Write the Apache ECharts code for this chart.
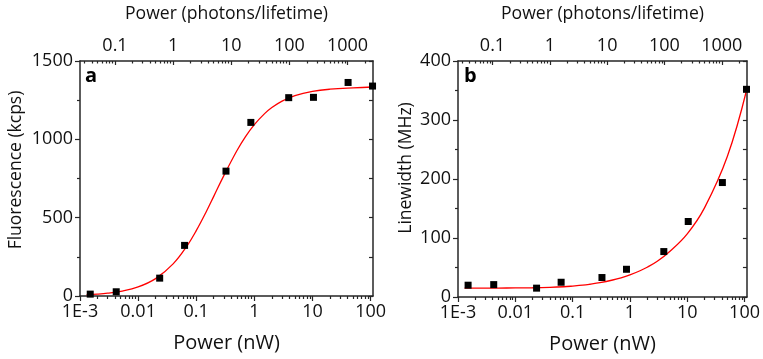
<!DOCTYPE html>
<html>
<head>
<meta charset="utf-8">
<script src="https://cdn.jsdelivr.net/npm/echarts@6/dist/echarts.min.js"></script>
<style>
html,body{margin:0;padding:0;background:#fff;}
#chart{width:763px;height:359px;}
</style>
</head>
<body>
<div id="chart"></div>
<script>
// ---- data ----
const powerNW = [0.0015, 0.0042, 0.0235, 0.063, 0.325, 0.87, 3.9, 10.4, 41, 108];
const fluorescenceKcps = [12, 27, 114, 323, 797, 1108, 1266, 1268, 1363, 1340];
const linewidthMHz = [20, 21, 15, 25, 33, 47, 77, 128, 194, 352];

// red fit curves
const fitPowerNW = [0.0013, 0.002, 0.003, 0.005, 0.01, 0.02, 0.04, 0.07, 0.1, 0.15, 0.2, 0.3, 0.5, 0.7, 1, 1.5, 2, 3, 5, 10, 20, 50, 110];
const fitFluorescence = [8, 12, 18, 30, 58, 111, 205, 322, 417, 541, 636, 770, 927, 1016, 1094, 1164, 1203, 1244, 1279, 1306, 1320, 1329, 1334];
const fitLinewidth = [15.0, 15.1, 15.1, 15.2, 15.4, 15.7, 16.4, 17.4, 18.5, 20.0, 21.6, 24.3, 28.8, 32.5, 37.5, 44.5, 50.5, 60.5, 77.5, 107, 151, 238, 353];

// tick labels
const bottomTickLabels = { '-3': '1E-3', '-2': '0.01', '-1': '0.1', '0': '1', '1': '10', '2': '100' };
const topTickLabels = { '-1': '0.1', '0': '1', '1': '10', '2': '100', '3': '1000' };
const fluorescenceTicks = [0, 500, 1000, 1500];
const linewidthTicks = [0, 100, 200, 300, 400];

const photonsPerNW = 25;        // conversion of the top axis
const xMin = 0.001, xMax = 110;

// ---- build ----
const FONT = '"Open Sans", "DejaVu Sans", sans-serif';
const AXC = '#262626';
const TXT = '#111';

function decadeFormatter(map) {
  return function (v) {
    const l = Math.log10(v);
    const e = Math.round(l);
    if (Math.abs(l - e) > 1e-6) return '';
    return map[String(e)] !== undefined ? map[String(e)] : '';
  };
}
function majorLog(lo, hi) {
  const out = [];
  for (let e = Math.ceil(lo - 1e-9); e <= hi + 1e-9; e++) out.push(e);
  return out;
}
function minorLog(lo, hi) {
  const out = [];
  for (let e = Math.floor(lo) - 1; e <= Math.ceil(hi); e++) {
    for (let k = 2; k <= 9; k++) {
      const v = e + Math.log10(k);
      if (v > lo + 1e-9 && v < hi - 1e-9) out.push(v);
    }
  }
  return out;
}

const grids = [
  { left: 80, top: 59, width: 293, height: 237 },
  { left: 458, top: 59, width: 294, height: 238 }
];

const xAxes = [];
const yAxes = [];
const bLo = Math.log10(xMin), bHi = Math.log10(xMax);
const tLo = Math.log10(xMin * photonsPerNW), tHi = Math.log10(xMax * photonsPerNW);

function tickAxis(gridIndex, position, lo, hi, values, len, inside) {
  return {
    type: 'value', gridIndex, position, min: lo, max: hi,
    axisLine: { show: false, onZero: false }, axisLabel: { show: false }, splitLine: { show: false },
    axisTick: { show: true, inside, length: len, customValues: values, lineStyle: { color: AXC, width: 1.2 } }
  };
}

[0, 1].forEach(function (g) {
  // bottom data axis (log)
  xAxes.push({
    type: 'log', logBase: 10, gridIndex: g, position: 'bottom', min: xMin, max: xMax,
    axisLine: { show: true, onZero: false, lineStyle: { color: AXC, width: 1.5 } },
    axisTick: { show: false }, splitLine: { show: false },
    axisLabel: { interval: 0, margin: 7, color: TXT, fontFamily: FONT, fontSize: 18, formatter: decadeFormatter(bottomTickLabels) },
    name: 'Power (nW)', nameLocation: 'middle', nameGap: 37,
    nameTextStyle: { color: TXT, fontFamily: FONT, fontSize: 20 }
  });
  // top axis in photons/lifetime (log)
  xAxes.push({
    type: 'log', logBase: 10, gridIndex: g, position: 'top', min: xMin * photonsPerNW, max: xMax * photonsPerNW,
    axisLine: { show: true, onZero: false, lineStyle: { color: AXC, width: 1.5 } },
    axisTick: { show: false }, splitLine: { show: false },
    axisLabel: { interval: 0, margin: 6, color: TXT, fontFamily: FONT, fontSize: 18, formatter: decadeFormatter(topTickLabels) },
    name: 'Power (photons/lifetime)', nameLocation: 'middle', nameGap: 38,
    nameTextStyle: { color: TXT, fontFamily: FONT, fontSize: 17.6 }
  });
  xAxes.push(tickAxis(g, 'bottom', bLo, bHi, majorLog(bLo, bHi), 5, false));
  xAxes.push(tickAxis(g, 'bottom', bLo, bHi, minorLog(bLo, bHi), 3, false));
  xAxes.push(tickAxis(g, 'top', tLo, tHi, majorLog(tLo, tHi), 4, true));
  xAxes.push(tickAxis(g, 'top', tLo, tHi, minorLog(tLo, tHi), 2.5, true));
});

function yPair(g, ticks, name, gap, pad) {
  const mx = ticks[ticks.length - 1];
  const interval = ticks[1] - ticks[0];
  yAxes.push({
    type: 'value', gridIndex: g, position: 'left', min: ticks[0], max: mx, interval,
    axisLine: { show: true, onZero: false, lineStyle: { color: AXC, width: 1.5 } },
    axisTick: { show: true, inside: false, length: 5, lineStyle: { color: AXC, width: 1.2 } },
    minorTick: { show: true, splitNumber: 2, length: 3, lineStyle: { color: AXC, width: 1.2 } },
    splitLine: { show: false },
    axisLabel: { margin: 7, color: TXT, fontFamily: FONT, fontSize: 18, formatter: function (v) { return String(v); } },
    name, nameLocation: 'middle', nameGap: gap,
    nameTextStyle: { color: TXT, fontFamily: FONT, fontSize: 17.5, padding: pad }
  });
  yAxes.push({
    type: 'value', gridIndex: g, position: 'right', min: ticks[0], max: mx, interval,
    axisLine: { show: true, onZero: false, lineStyle: { color: AXC, width: 1.5 } },
    axisTick: { show: true, inside: true, length: 4, lineStyle: { color: AXC, width: 1.2 } },
    minorTick: { show: true, splitNumber: 2, length: 4, lineStyle: { color: AXC, width: 1.2 } },
    splitLine: { show: false }, axisLabel: { show: false }
  });
}
yPair(0, fluorescenceTicks, 'Fluorescence (kcps)', 55, [0, 0, 0, 17]);
yPair(1, linewidthTicks, 'Linewidth (MHz)', 43, [0, 0, 0, 22]);

function pairs(xs, ys) { return xs.map(function (x, i) { return [x, ys[i]]; }); }

const series = [
  { type: 'line', xAxisIndex: 0, yAxisIndex: 0, data: pairs(fitPowerNW, fitFluorescence), smooth: 0.4, showSymbol: false, silent: true,
    lineStyle: { color: '#ff0000', width: 1.3 }, z: 2 },
  { type: 'scatter', xAxisIndex: 0, yAxisIndex: 0, data: pairs(powerNW, fluorescenceKcps), symbol: 'rect', symbolSize: 7,
    itemStyle: { color: '#000', opacity: 1 }, clip: false, z: 3 },
  { type: 'line', xAxisIndex: 6, yAxisIndex: 2, data: pairs(fitPowerNW, fitLinewidth), smooth: 0.4, showSymbol: false, silent: true,
    lineStyle: { color: '#ff0000', width: 1.3 }, z: 2 },
  { type: 'scatter', xAxisIndex: 6, yAxisIndex: 2, data: pairs(powerNW, linewidthMHz), symbol: 'rect', symbolSize: 7,
    itemStyle: { color: '#000', opacity: 1 }, clip: false, z: 3 }
];

const chart = echarts.init(document.getElementById('chart'), null, { renderer: 'canvas' });
chart.setOption({
  animation: false,
  backgroundColor: '#fff',
  grid: grids,
  xAxis: xAxes,
  yAxis: yAxes,
  series,
  graphic: [
    { type: 'text', left: 85, top: 66, style: { text: 'a', fill: '#000', font: 'bold 20px ' + FONT } },
    { type: 'text', left: 464, top: 66, style: { text: 'b', fill: '#000', font: 'bold 20px ' + FONT } }
  ]
});
</script>
</body>
</html>
